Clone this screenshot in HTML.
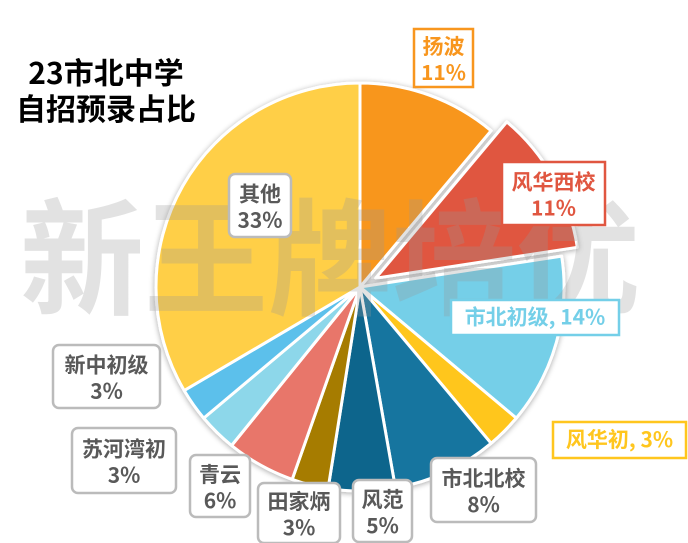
<!DOCTYPE html>
<html><head><meta charset="utf-8"><style>
html,body{margin:0;padding:0;background:#fff;width:688px;height:543px;overflow:hidden}
svg{display:block}
text{font-family:"Noto Sans CJK SC","Liberation Sans",sans-serif;font-weight:bold}
</style></head><body>
<svg id="s" width="688" height="543" viewBox="0 0 688 543" xmlns="http://www.w3.org/2000/svg">
<defs><filter id="sh" x="-20%" y="-20%" width="140%" height="140%"><feGaussianBlur in="SourceAlpha" stdDeviation="3"/><feOffset dx="0" dy="1"/><feComponentTransfer><feFuncA type="linear" slope="0.35"/></feComponentTransfer><feMerge><feMergeNode/><feMergeNode in="SourceGraphic"/></feMerge></filter></defs>
<g id="pie" filter="url(#sh)"></g>
<text x="640" y="305" font-size="126" font-weight="900" fill="rgba(150,150,150,0.28)" text-anchor="end" textLength="620" lengthAdjust="spacingAndGlyphs">新王牌培优</text>
<text x="106" y="84" font-size="30" font-weight="900" fill="#000" text-anchor="middle">23市北中学</text>
<text x="106" y="120" font-size="30" font-weight="900" fill="#000" text-anchor="middle">自招预录占比</text>
<g id="lbl"></g>
</svg>
<script>
var cx=360,cy=287,r=204;
var sl=[[0,40,"#F8961E"],[40,81.3,"#E05640",1],[81.3,130,"#74CFE8"],[130,140,"#FFC61E"],[140,170,"#12759F"],[170,189,"#0F658C"],[189,199.4,"#A67C00"],[199.4,219,"#E8766A"],[219,230,"#8DD7EA"],[230,239.5,"#5BC0EB"],[239.5,360,"#FFCF47"]];
function pt(a,rr,ox,oy){var t=a*Math.PI/180;return [(cx+ox+rr*Math.sin(t)).toFixed(1),(cy+oy-rr*Math.cos(t)).toFixed(1)];}
var g=document.getElementById("pie"),h="";
sl.forEach(function(s){var ox=0,oy=0;if(s[3]){var m=(s[0]+s[1])/2*Math.PI/180;ox=18*Math.sin(m);oy=-18*Math.cos(m);}
var p1=pt(s[0],r,ox,oy),p2=pt(s[1],r,ox,oy);var large=(s[1]-s[0])>180?1:0;
h+='<path d="M'+(cx+ox)+' '+(cy+oy)+' L'+p1[0]+' '+p1[1]+' A'+r+' '+r+' 0 '+large+' 1 '+p2[0]+' '+p2[1]+' Z" fill="'+s[2]+'" stroke="#fff" stroke-width="3" stroke-linejoin="round"/>';});
g.innerHTML=h;
var L=[
[414,29,59,58,"#F8961E","#F8961E",0,["扬波","11%"]],
[502,162,103,63,"#E05640","#E05640",0,["风华西校","11%"]],
[451,300,168,35,"#74CFE8","#74CFE8",0,["市北初级, 14%"]],
[553,422,133,36,"#FFC61E","#FFC61E",0,["风华初, 3%"]],
[431,458,105,64,"#bbb","#595959",6,["市北北校","8%"]],
[353,480,59,62,"#bbb","#595959",6,["风范","5%"]],
[258,483,82,60,"#bbb","#595959",6,["田家炳","3%"]],
[190,455,60,62,"#bbb","#595959",6,["青云","6%"]],
[72,428,104,65,"#bbb","#595959",6,["苏河湾初","3%"]],
[53,345,107,63,"#bbb","#595959",6,["新中初级","3%"]],
[229,174,62,63,"#bbb","#595959",6,["其他","33%"]]];
var q="";
L.forEach(function(l){q+='<rect x="'+l[0]+'" y="'+l[1]+'" width="'+l[2]+'" height="'+l[3]+'" rx="'+l[6]+'" fill="#fff" stroke="'+l[4]+'" stroke-width="2.5"/>';
var mx=l[0]+l[2]/2;if(l[7].length==1){q+='<text x="'+mx+'" y="'+(l[1]+l[3]/2+7)+'" font-size="21" fill="'+l[5]+'" text-anchor="middle">'+l[7][0]+'</text>';}
else{q+='<text x="'+mx+'" y="'+(l[1]+l[3]/2-4)+'" font-size="21" fill="'+l[5]+'" text-anchor="middle">'+l[7][0]+'</text><text x="'+mx+'" y="'+(l[1]+l[3]/2+22)+'" font-size="21" fill="'+l[5]+'" text-anchor="middle">'+l[7][1]+'</text>';}});
document.getElementById("lbl").innerHTML=q;
</script>
</body></html>
